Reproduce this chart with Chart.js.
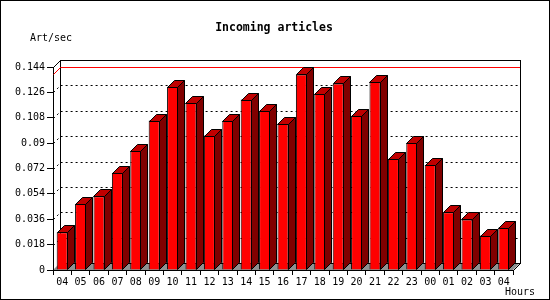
<!DOCTYPE html>
<html>
<head>
<meta charset="utf-8">
<script src="https://cdn.jsdelivr.net/npm/chart.js@4/dist/chart.umd.min.js"></script>
<style>
  html, body { margin: 0; padding: 0; background: #fff; }
  canvas { display: block; }
</style>
</head>
<body>
<canvas id="chart" width="550" height="300"></canvas>
<script>
// Hours of the day (starting at 04 and wrapping round to 04 again)
const hours = ['04', '05', '06', '07', '08', '09', '10', '11', '12', '13', '14', '15', '16',
               '17', '18', '19', '20', '21', '22', '23', '00', '01', '02', '03', '04'];

// Incoming articles per second
const artPerSec = [0.0268, 0.0468, 0.0523, 0.0689, 0.0846, 0.106, 0.130, 0.1187, 0.0954,
                   0.1059, 0.1209, 0.1130, 0.1037, 0.1387, 0.1251, 0.1323, 0.1094, 0.1337,
                   0.0789, 0.0901, 0.0744, 0.0409, 0.0359, 0.0244, 0.0301];

// Y axis range / step
const yMin = 0;
const yMax = 0.144;
const yStep = 0.018;

const titleText = 'Incoming articles';
const yTitleText = 'Art/sec';
const xTitleText = 'Hours';

// 3D depth offset of the bars and the back wall
const DX = 7;
const DY = 7;
const MONO = '"DejaVu Sans Mono", "Liberation Mono", monospace';

/**
 * Draws the background, the back wall with dotted grid, the floor and the max line
 */
const wallPlugin = {
    id: 'wall3d',
    beforeDraw(chart) {
        const ctx = chart.ctx;
        const area = chart.chartArea;
        const yScale = chart.scales.y;
        const l = area.left, r = area.right, t = area.top, b = area.bottom;

        ctx.save();
        ctx.fillStyle = '#fff';
        ctx.fillRect(0, 0, chart.width, chart.height);

        // outer frame
        ctx.strokeStyle = '#000';
        ctx.lineWidth = 1;
        ctx.strokeRect(0.5, 0.5, chart.width - 1, chart.height - 1);

        // floor
        ctx.fillStyle = '#909090';
        ctx.beginPath();
        ctx.moveTo(l, b);
        ctx.lineTo(r, b);
        ctx.lineTo(r + DX, b - DY);
        ctx.lineTo(l + DX, b - DY);
        ctx.closePath();
        ctx.fill();

        // back wall
        ctx.fillStyle = '#fff';
        ctx.fillRect(l + DX, t - DY, r - l, b - t);
        ctx.strokeRect(Math.round(l + DX) + 0.5, Math.round(t - DY) + 0.5, Math.round(r - l), Math.round(b - t));

        // edges joining the front axes to the back wall
        ctx.beginPath();
        ctx.moveTo(l + 0.5, t + 0.5);
        ctx.lineTo(l + DX + 0.5, t - DY + 0.5);
        ctx.moveTo(r + 0.5, b + 0.5);
        ctx.lineTo(r + DX + 0.5, b - DY + 0.5);
        ctx.stroke();

        // dotted grid on the back wall
        ctx.setLineDash([2, 3]);
        yScale.ticks.forEach(tick => {
            if (tick.value <= yMin || tick.value >= yMax) return;
            const y = Math.round(yScale.getPixelForValue(tick.value)) + 0.5;
            ctx.beginPath();
            ctx.moveTo(l + 0.5, y);
            ctx.lineTo(l + DX + 0.5, y - DY);
            ctx.lineTo(r + DX, y - DY);
            ctx.stroke();
        });
        ctx.setLineDash([]);
        ctx.restore();
    },
    beforeDatasetsDraw(chart) {
        // red line at the maximum value, on the back wall
        const ctx = chart.ctx;
        const area = chart.chartArea;
        const yScale = chart.scales.y;
        const maxVal = Math.max(...artPerSec);
        const ym = Math.round(yScale.getPixelForValue(maxVal)) + 0.5;
        ctx.save();
        ctx.setLineDash([]);
        ctx.lineWidth = 1;
        ctx.strokeStyle = '#ff0000';
        ctx.beginPath();
        ctx.moveTo(area.left + 0.5, ym);
        ctx.lineTo(area.left + DX + 0.5, ym - DY);
        ctx.lineTo(area.right + DX, ym - DY);
        ctx.stroke();
        ctx.restore();
    },
    afterDatasetsDraw(chart) {
        const ctx = chart.ctx;
        const meta = chart.getDatasetMeta(0);
        ctx.save();
        ctx.strokeStyle = '#000';
        ctx.lineWidth = 1;
        meta.data.forEach(bar => {
            const p = bar.getProps(['x', 'y', 'base', 'width'], true);
            const left = Math.round(p.x - p.width / 2) + 0.5;
            const right = Math.round(p.x + p.width / 2) - 0.5;
            const top = Math.round(p.y) + 0.5;
            const base = Math.round(p.base) - 0.5;

            // top face
            ctx.fillStyle = '#c00000';
            ctx.beginPath();
            ctx.moveTo(left, top);
            ctx.lineTo(left + DX, top - DY);
            ctx.lineTo(right + DX, top - DY);
            ctx.lineTo(right, top);
            ctx.closePath();
            ctx.fill();
            ctx.stroke();

            // side face
            ctx.fillStyle = '#800000';
            ctx.beginPath();
            ctx.moveTo(right, top);
            ctx.lineTo(right + DX, top - DY);
            ctx.lineTo(right + DX, base - DY);
            ctx.lineTo(right, base);
            ctx.closePath();
            ctx.fill();
            ctx.stroke();
        });
        ctx.restore();
    },
    afterDraw(chart) {
        const ctx = chart.ctx;
        ctx.save();
        ctx.fillStyle = '#000';
        ctx.textBaseline = 'middle';

        ctx.font = 'bold 11.5px ' + MONO;
        ctx.textAlign = 'center';
        ctx.fillText(titleText, 274, 28);

        ctx.font = '10px ' + MONO;
        ctx.textAlign = 'left';
        ctx.fillText(yTitleText, 30, 38);

        ctx.textAlign = 'right';
        ctx.fillText(xTitleText, 535, 292);
        ctx.restore();
    }
};

const ctx = document.getElementById('chart').getContext('2d');
const chart = new Chart(ctx, {
    type: 'bar',
    data: {
        labels: hours,
        datasets: [{
            label: yTitleText,
            data: artPerSec,
            backgroundColor: '#ff0000',
            borderColor: '#000',
            borderWidth: 1,
            barPercentage: 0.6,
            categoryPercentage: 1.0
        }]
    },
    options: {
        responsive: false,
        animation: false,
        devicePixelRatio: 1,
        layout: {
            padding: { top: 67, right: 37, left: 0, bottom: 0 }
        },
        plugins: {
            legend: { display: false },
            title: { display: false },
            tooltip: { enabled: false }
        },
        scales: {
            x: {
                offset: true,
                grid: {
                    offset: true,
                    drawOnChartArea: false,
                    drawTicks: true,
                    tickLength: 5,
                    color: '#000'
                },
                border: { display: true, color: '#000', width: 1 },
                ticks: {
                    color: '#000',
                    font: { family: MONO, size: 10 },
                    autoSkip: false,
                    maxRotation: 0,
                    padding: 1
                },
                afterFit(scale) { scale.height = 30; }
            },
            y: {
                min: yMin,
                max: yMax,
                grid: {
                    drawOnChartArea: false,
                    drawTicks: true,
                    tickLength: 6,
                    color: '#000'
                },
                border: { display: true, color: '#000', width: 1 },
                ticks: {
                    stepSize: yStep,
                    color: '#000',
                    font: { family: MONO, size: 10 },
                    padding: 2,
                    callback: v => String(+v.toFixed(3))
                },
                afterFit(scale) { scale.width = 53; }
            }
        }
    },
    plugins: [wallPlugin]
});
</script>
</body>
</html>
